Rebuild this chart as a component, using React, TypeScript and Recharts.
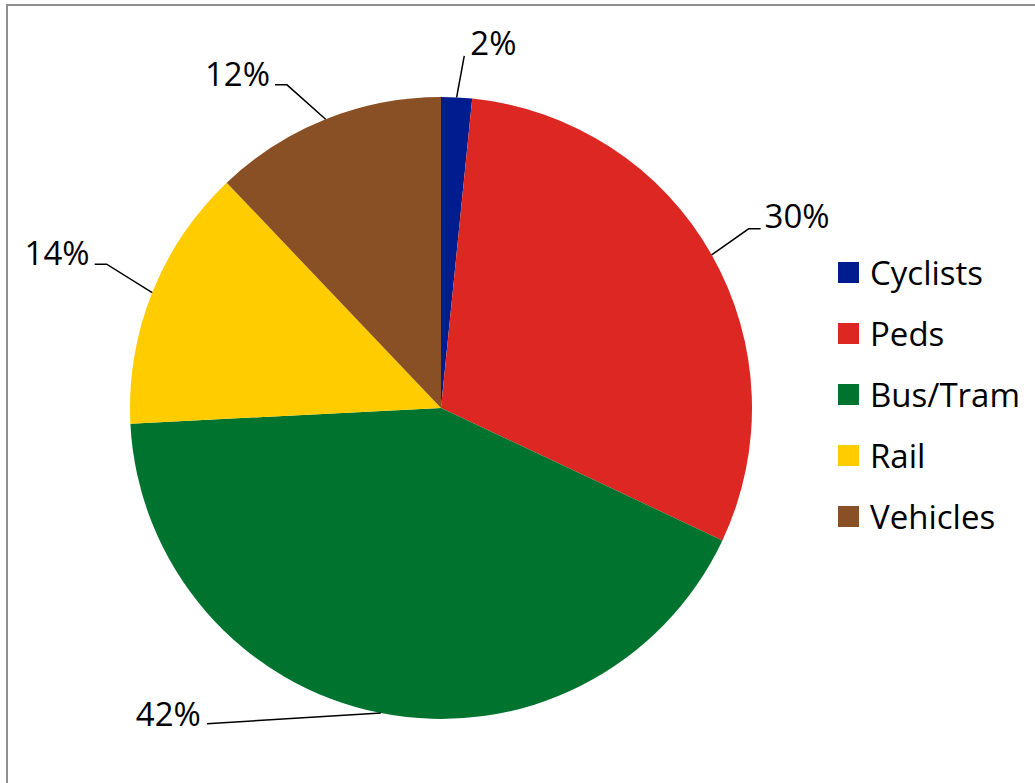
import React from 'react';
import { PieChart, Pie, Cell, Legend } from 'recharts';

const categories = ['Cyclists', 'Peds', 'Bus/Tram', 'Rail', 'Vehicles'];
const shares = [1.6, 30.4, 42.2, 13.7, 12.1];
const colors = ['#001c8f', '#dd2722', '#00732e', '#ffcc00', '#8a5025'];

const data = categories.map((name, i) => ({ name, value: shares[i] }));

// leader-line layout per slice (polar elbow, horizontal tail, text offset)
const labelLayout = [
  { r: 353, shift: 0.9, tail: 0, anchor: 'start', dx: 6, dy: -1 },
  { r: 356, shift: -0.7, tail: 12, anchor: 'start', dx: 4, dy: -1 },
  { r: 393, shift: 25.4, tail: 0, anchor: 'end', dx: -6, dy: 2 },
  { r: 364, shift: 1.5, tail: -12, anchor: 'end', dx: -5, dy: 1 },
  { r: 358, shift: -3.7, tail: -12, anchor: 'end', dx: -5, dy: 1 },
];

const FONT = '"Open Sans", sans-serif';
const RAD = Math.PI / 180;

const polar = (cx: number, cy: number, r: number, a: number) => ({
  x: cx + Math.cos(-a * RAD) * r,
  y: cy + Math.sin(-a * RAD) * r,
});

const renderLabel = (props: any) => {
  const { cx, cy, midAngle, outerRadius, percent, index } = props;
  const L = labelLayout[index];
  const p0 = polar(cx, cy, outerRadius, midAngle);
  const p1 = polar(cx, cy, L.r, midAngle - L.shift);
  const p2 = { x: p1.x + L.tail, y: p1.y };
  return (
    <g key={`lbl-${index}`}>
      <polyline
        points={`${p0.x},${p0.y} ${p1.x},${p1.y} ${p2.x},${p2.y}`}
        fill="none"
        stroke="#000"
        strokeWidth={1.5}
      />
      <text
        x={p2.x + L.dx}
        y={p2.y + L.dy}
        textAnchor={L.anchor as any}
        fontFamily={FONT}
        fontSize={33}
        fill="#000"
      >
        {`${Math.round(percent * 100)}%`}
      </text>
    </g>
  );
};

const renderLegend = (props: any) => {
  const payload: any[] = props.payload || [];
  const ordered = categories
    .map((c) => payload.find((p: any) => p.value === c))
    .filter(Boolean);
  return (
    <div style={{ fontFamily: FONT, fontSize: 33, color: '#000' }}>
      {ordered.map((entry: any, i: number) => (
        <div
          key={`leg-${i}`}
          style={{ display: 'flex', alignItems: 'center', height: 61, whiteSpace: 'nowrap' }}
        >
          <div style={{ width: 21, height: 21, background: entry.color, marginRight: 11 }} />
          <span style={{ lineHeight: '61px' }}>{entry.value}</span>
        </div>
      ))}
    </div>
  );
};

export default function App() {
  return (
    <div
      style={{
        position: 'absolute',
        left: 0,
        top: 0,
        width: 1035,
        height: 783,
        overflow: 'hidden',
        background: '#fff',
      }}
    >
      <div
        style={{
          position: 'absolute',
          left: 6,
          top: 4,
          width: 1200,
          height: 1000,
          border: '2px solid #8f8f8f',
          boxSizing: 'border-box',
        }}
      />
      <div style={{ position: 'absolute', left: 0, top: 0 }}>
        <PieChart width={1035} height={783} margin={{ top: 0, right: 0, bottom: 0, left: 0 }}>
          <Pie
            data={data}
            dataKey="value"
            nameKey="name"
            cx={441}
            cy={408}
            outerRadius={311}
            startAngle={90}
            endAngle={-270}
            stroke="none"
            label={renderLabel}
            labelLine={false}
            isAnimationActive={false}
          >
            {data.map((d, i) => (
              <Cell key={d.name} fill={colors[i]} />
            ))}
          </Pie>
          <Legend
            content={renderLegend}
            wrapperStyle={{ position: 'absolute', left: 838, top: 242, width: 197 }}
          />
        </PieChart>
      </div>
    </div>
  );
}
